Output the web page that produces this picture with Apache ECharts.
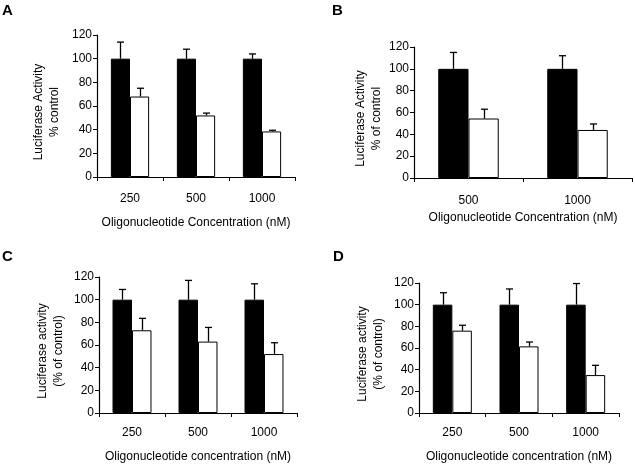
<!DOCTYPE html>
<html>
<head>
<meta charset="utf-8">
<script src="https://cdn.jsdelivr.net/npm/echarts@6/dist/echarts.min.js"></script>
<style>html,body{margin:0;padding:0;background:#fff}#c{width:635px;height:466px}</style>
</head>
<body>
<div id="c"></div>
<script>
// Panel A
const catsA = ['250', '500', '1000'];
const blackA = [100, 100, 100];
const blackErrA = [14, 8, 4];
const whiteA = [68, 52, 38.5];
const whiteErrA = [7, 2, 1];
// Panel B
const catsB = ['500', '1000'];
const blackB = [100, 100];
const blackErrB = [15, 12];
const whiteB = [54.5, 44];
const whiteErrB = [8.5, 5.5];
// Panel C
const catsC = ['250', '500', '1000'];
const blackC = [100, 100, 100];
const blackErrC = [9, 17, 14];
const whiteC = [73, 63, 52];
const whiteErrC = [10.5, 12.5, 10];
// Panel D
const catsD = ['250', '500', '1000'];
const blackD = [100, 100, 100];
const blackErrD = [11, 14.5, 19.5];
const whiteD = [76, 61.5, 35];
const whiteErrD = [5, 4, 9];
// Axis ticks
const yMin = 0, yMax = 120, yStep = 20;

const FONT = '"Liberation Sans", Arial, sans-serif';

const panels = [
  {letter:'A', cats:catsA, black:blackA, bErr:blackErrA, white:whiteA, wErr:whiteErrA,
   grid:{left:97, top:35, width:198, height:142}, gap:0.42,
   yName:'Luciferase Activity\n% control', yGap:34,
   xName:'Oligonucleotide Concentration (nM)', xGap:40, labelMargin:16,
   lx:2, ly:3},
  {letter:'B', cats:catsB, black:blackB, bErr:blackErrB, white:whiteB, wErr:whiteErrB,
   grid:{left:414, top:47, width:218, height:131}, gap:0.445,
   yName:'Luciferase Activity\n% of control', yGap:29,
   xName:'Oligonucleotide Concentration (nM)', xGap:34, labelMargin:17,
   lx:332, ly:3},
  {letter:'C', cats:catsC, black:blackC, bErr:blackErrC, white:whiteC, wErr:whiteErrC,
   grid:{left:99, top:277, width:198, height:136}, gap:0.41,
   yName:'Luciferase activity\n(% of control)', yGap:32,
   xName:'Oligonucleotide concentration (nM)', xGap:38, labelMargin:14,
   lx:2, ly:249},
  {letter:'D', cats:catsD, black:blackD, bErr:blackErrD, white:whiteD, wErr:whiteErrD,
   grid:{left:419, top:283, width:200, height:130}, gap:0.415,
   yName:'Luciferase activity\n(% of control)', yGap:32,
   xName:'Oligonucleotide concentration (nM)', xGap:38, labelMargin:14,
   lx:333, ly:249}
];

function errRender(side, gap) {
  return function (params, api) {
    const idx = api.value(0);
    const base = api.coord([idx, api.value(1)]);
    const top = api.coord([idx, api.value(2)]);
    const band = api.size([1, 0])[0];
    const barW = band * (1 - gap) / 2;
    const x = Math.round(base[0] + side * barW / 2) + 0.5;
    const cap = 3.5;
    const st = {stroke:'#000', lineWidth:1.3};
    return {
      type:'group',
      children:[
        {type:'line', shape:{x1:x, y1:base[1], x2:x, y2:top[1]}, style:st},
        {type:'line', shape:{x1:x - cap, y1:top[1], x2:x + cap, y2:top[1]}, style:st}
      ]
    };
  };
}

const grids = [], xAxes = [], yAxes = [], series = [], graphics = [];
panels.forEach((p, i) => {
  grids.push(Object.assign({containLabel:false}, p.grid));
  xAxes.push({
    type:'category', gridIndex:i, data:p.cats,
    axisLine:{lineStyle:{color:'#000', width:1.2}},
    axisTick:{show:true, length:4, alignWithLabel:false, lineStyle:{color:'#000'}},
    axisLabel:{color:'#000', fontSize:12, fontFamily:FONT, margin:p.labelMargin},
    name:p.xName, nameLocation:'middle', nameGap:p.xGap,
    nameTextStyle:{color:'#000', fontSize:12, fontFamily:FONT}
  });
  yAxes.push({
    type:'value', gridIndex:i, min:yMin, max:yMax, interval:yStep,
    axisLine:{show:true, lineStyle:{color:'#000', width:1.2}},
    axisTick:{show:true, length:4, lineStyle:{color:'#000'}},
    splitLine:{show:false},
    axisLabel:{color:'#000', fontSize:12, fontFamily:FONT, margin:5},
    name:p.yName, nameLocation:'middle', nameGap:p.yGap, nameRotate:90,
    nameTextStyle:{color:'#000', fontSize:12, fontFamily:FONT, lineHeight:16, padding:[0,12,0,0]}
  });
  const gapPct = (p.gap * 100) + '%';
  series.push({
    type:'bar', xAxisIndex:i, yAxisIndex:i, data:p.black,
    barGap:'0%', barCategoryGap:gapPct,
    itemStyle:{color:'#000', borderColor:'#000', borderWidth:1},
    silent:true, z:2
  });
  series.push({
    type:'bar', xAxisIndex:i, yAxisIndex:i, data:p.white,
    barGap:'0%', barCategoryGap:gapPct,
    itemStyle:{color:'#fff', borderColor:'#000', borderWidth:1},
    silent:true, z:2
  });
  series.push({
    type:'custom', xAxisIndex:i, yAxisIndex:i, z:3, silent:true,
    renderItem:errRender(-1, p.gap),
    data:p.black.map((v, k) => [k, v, v + p.bErr[k]])
  });
  series.push({
    type:'custom', xAxisIndex:i, yAxisIndex:i, z:3, silent:true,
    renderItem:errRender(1, p.gap),
    data:p.white.map((v, k) => [k, v, v + p.wErr[k]])
  });
  graphics.push({
    type:'text', left:p.lx, top:p.ly,
    style:{text:p.letter, font:'bold 15px ' + FONT, fill:'#000'}
  });
});

const chart = echarts.init(document.getElementById('c'), null, {renderer:'canvas'});
chart.setOption({
  animation:false,
  backgroundColor:'#fff',
  grid:grids, xAxis:xAxes, yAxis:yAxes, series:series, graphic:graphics
});
</script>
</body>
</html>
